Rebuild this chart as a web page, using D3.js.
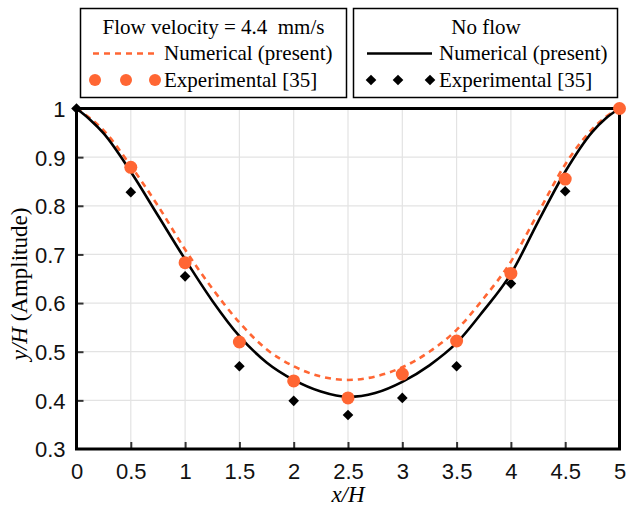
<!DOCTYPE html>
<html>
<head>
<meta charset="utf-8">
<script src="https://cdn.jsdelivr.net/npm/d3@7"></script>
<style>
  body { margin: 0; background: #fff; }
  .tick text { font-family: "Liberation Sans", Arial, sans-serif; }
  .serif { font-family: "Liberation Serif", "Times New Roman", serif; }
</style>
</head>
<body>
<div id="my_dataviz"></div>
<script>
// —————————— DATA
var xCurve      = [0, 0.125, 0.25, 0.5, 0.75, 1, 1.25, 1.5, 1.75, 2, 2.25, 2.5, 2.75, 3, 3.25, 3.5, 3.75, 4, 4.25, 4.5, 4.75, 4.875, 5];
var noFlowNum   = [1, 0.977, 0.949, 0.87, 0.78, 0.69, 0.605, 0.532, 0.478, 0.442, 0.418, 0.407, 0.415, 0.438, 0.472, 0.518, 0.585, 0.66, 0.767, 0.87, 0.952, 0.98, 1];
var flowNum     = [1, 0.98, 0.955, 0.882, 0.80, 0.71, 0.63, 0.56, 0.505, 0.47, 0.449, 0.442, 0.449, 0.468, 0.50, 0.545, 0.61, 0.685, 0.785, 0.885, 0.958, 0.983, 1];

var xFlowExp    = [0.5, 1, 1.5, 2, 2.5, 3, 3.5, 4, 4.5, 5];
var flowExp     = [0.879, 0.683, 0.52, 0.44, 0.405, 0.454, 0.522, 0.661, 0.855, 1];
var xNoFlowExp  = [0, 0.5, 1, 1.5, 2, 2.5, 3, 3.5, 4, 4.5];
var noFlowExp   = [1, 0.828, 0.655, 0.47, 0.399, 0.37, 0.405, 0.47, 0.64, 0.83];

var xTicks = [0, 0.5, 1, 1.5, 2, 2.5, 3, 3.5, 4, 4.5, 5];
var yTicks = [0.3, 0.4, 0.5, 0.6, 0.7, 0.8, 0.9, 1];

var orange = "#ff6633";

// —————————— SIZES
var W = 626, H = 511;
var margin = {top: 108.5, right: 6.5, bottom: 62, left: 76.5},
    width = W - margin.left - margin.right,
    height = H - margin.top - margin.bottom;

var svg = d3.select("#my_dataviz")
  .append("svg")
    .attr("width", W)
    .attr("height", H);

var g = svg.append("g")
    .attr("transform", "translate(" + margin.left + "," + margin.top + ")");

var x = d3.scaleLinear().domain([0, 5]).range([0, width]);
var y = d3.scaleLinear().domain([0.3, 1]).range([height, 0]);

// grid
g.append("g")
  .selectAll("line")
  .data(xTicks)
  .enter().append("line")
    .attr("x1", d => x(d)).attr("x2", d => x(d))
    .attr("y1", 0).attr("y2", height)
    .attr("stroke", "#e3e3e3").attr("stroke-width", 1.2);
g.append("g")
  .selectAll("line")
  .data(yTicks)
  .enter().append("line")
    .attr("x1", 0).attr("x2", width)
    .attr("y1", d => y(d)).attr("y2", d => y(d))
    .attr("stroke", "#e3e3e3").attr("stroke-width", 1.2);

// axes
var xAxis = g.append("g")
  .attr("transform", "translate(0," + height + ")")
  .call(d3.axisBottom(x).tickValues(xTicks).tickSize(-7).tickPadding(14).tickFormat(d3.format("")));
var yAxis = g.append("g")
  .call(d3.axisLeft(y).tickValues(yTicks).tickSize(-7).tickPadding(11).tickFormat(d3.format("")));

[xAxis, yAxis].forEach(function(a) {
  a.select(".domain").remove();
  a.selectAll(".tick line").attr("stroke", "#333").attr("stroke-width", 2);
  a.selectAll(".tick text").style("font-size", "22px").attr("fill", "#111");
});
xAxis.selectAll(".tick").filter(d => d === 0 || d === 5).select("line").remove();
yAxis.selectAll(".tick").filter(d => d === 0.3 || d === 1).select("line").remove();
yAxis.selectAll(".tick text").attr("dy", "0.36em");

// frame
g.append("rect")
  .attr("x", 0).attr("y", 0)
  .attr("width", width).attr("height", height)
  .attr("fill", "none")
  .attr("stroke", "#000")
  .attr("stroke-width", 3);

// curves
var line = d3.line()
  .x(function(d) { return x(d[0]); })
  .y(function(d) { return y(d[1]); })
  .curve(d3.curveMonotoneX);

g.append("path")
  .datum(xCurve.map((d, i) => [d, flowNum[i]]))
  .attr("fill", "none")
  .attr("stroke", orange)
  .attr("stroke-width", 2.6)
  .attr("stroke-dasharray", "6,5")
  .attr("d", line);

g.append("path")
  .datum(xCurve.map((d, i) => [d, noFlowNum[i]]))
  .attr("fill", "none")
  .attr("stroke", "#000")
  .attr("stroke-width", 2.6)
  .attr("d", line);

// markers
var diamond = d3.symbol().type(d3.symbolDiamond2).size(72);

g.selectAll(".dia")
  .data(xNoFlowExp.map((d, i) => [d, noFlowExp[i]]))
  .enter().append("path")
    .attr("class", "dia")
    .attr("d", diamond)
    .attr("transform", d => "translate(" + x(d[0]) + "," + y(d[1]) + ")")
    .attr("fill", "#000");

g.selectAll(".circ")
  .data(xFlowExp.map((d, i) => [d, flowExp[i]]))
  .enter().append("circle")
    .attr("class", "circ")
    .attr("cx", d => x(d[0]))
    .attr("cy", d => y(d[1]))
    .attr("r", 6.5)
    .attr("fill", orange);

// axis titles
svg.append("text")
  .attr("class", "serif")
  .attr("x", margin.left + width / 2)
  .attr("y", 502)
  .attr("text-anchor", "middle")
  .style("font-size", "23px")
  .style("font-style", "italic")
  .text("x/H");

var yt = svg.append("text")
  .attr("class", "serif")
  .attr("transform", "translate(27,284) rotate(-90)")
  .attr("text-anchor", "middle")
  .style("font-size", "23px");
yt.append("tspan").style("font-style", "italic").text("y/H");
yt.append("tspan").text(" (Amplitude)");

// —————————— LEGENDS
function legendBox(x0, x1, title, titleX) {
  var lg = svg.append("g");
  lg.append("rect")
    .attr("x", x0).attr("y", 8.5)
    .attr("width", x1 - x0).attr("height", 89)
    .attr("fill", "#fff")
    .attr("stroke", "#000")
    .attr("stroke-width", 1.5);
  lg.append("text")
    .attr("class", "serif")
    .attr("x", titleX).attr("y", 34)
    .attr("text-anchor", "middle")
    .style("font-size", "21px")
    .text(title);
  return lg;
}

function legendText(lg, tx, ty, label) {
  lg.append("text")
    .attr("class", "serif")
    .attr("x", tx).attr("y", ty)
    .style("font-size", "21px")
    .text(label);
}

var lg1 = legendBox(80.5, 346.5, "Flow velocity = 4.4\u00a0\u00a0mm/s", 213.5);
lg1.append("line")
  .attr("x1", 93).attr("x2", 155).attr("y1", 53.5).attr("y2", 53.5)
  .attr("stroke", orange).attr("stroke-width", 2.4).attr("stroke-dasharray", "6,5");
legendText(lg1, 164, 60, "Numerical (present)");
lg1.selectAll("circle").data([95, 126, 155]).enter().append("circle")
  .attr("cx", d => d).attr("cy", 80).attr("r", 6).attr("fill", orange);
legendText(lg1, 164, 87, "Experimental [35]");

var lg2 = legendBox(353.5, 617.5, "No flow", 486);
lg2.append("line")
  .attr("x1", 367).attr("x2", 432).attr("y1", 53.5).attr("y2", 53.5)
  .attr("stroke", "#000").attr("stroke-width", 2.6);
legendText(lg2, 439, 60, "Numerical (present)");
lg2.selectAll("path").data([371, 398, 430]).enter().append("path")
  .attr("d", diamond)
  .attr("transform", d => "translate(" + d + ",80)")
  .attr("fill", "#000");
legendText(lg2, 439, 87, "Experimental [35]");
</script>
</body>
</html>
